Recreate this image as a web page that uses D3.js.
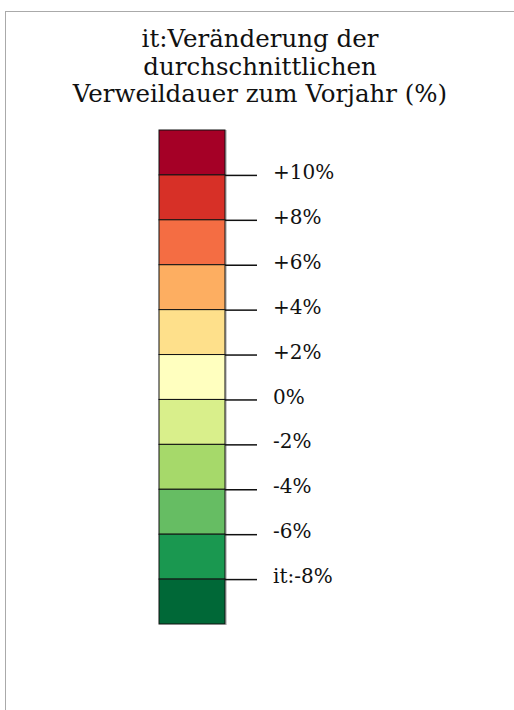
<!DOCTYPE html>
<html>
<head>
<meta charset="utf-8">
<script src="https://cdn.jsdelivr.net/npm/d3@7"></script>
<style>
  body { margin: 0; background: #fff; }
  text { font-family: "DejaVu Serif", serif; fill: #111; }
</style>
</head>
<body>
<div id="chart"></div>
<script>
// data
const titleLines = ["it:Veränderung der", "durchschnittlichen", "Verweildauer zum Vorjahr (%)"];
const bandEdges = [12, 10, 8, 6, 4, 2, 0, -2, -4, -6, -8, -10];
const bandColors = ["#a50026", "#d73027", "#f46d43", "#fdae61", "#fee08b", "#ffffbf",
                    "#d9ef8b", "#a6d96a", "#66bd63", "#1a9850", "#006837"];
const tickValues = [10, 8, 6, 4, 2, 0, -2, -4, -6, -8];
const tickLabels = ["+10%", "+8%", "+6%", "+4%", "+2%", "0%", "-2%", "-4%", "-6%", "it:-8%"];

const W = 514, H = 710;
const svg = d3.select("#chart").append("svg")
    .attr("width", W)
    .attr("height", H);

// frame
svg.append("rect")
    .attr("x", 5.5).attr("y", 11.5)
    .attr("width", W + 10).attr("height", H + 10)
    .attr("fill", "none")
    .attr("stroke", "#aaa");

// title
svg.append("text")
    .attr("text-anchor", "middle")
    .attr("font-size", 24.5)
    .selectAll("tspan")
    .data(titleLines)
    .join("tspan")
    .attr("x", 260)
    .attr("y", (d, i) => 47 + i * 27.5)
    .text(d => d);

// scale
const barX = 159, barW = 66;
const y = d3.scaleLinear()
    .domain([12, -10])
    .range([130, 624]);

const bands = bandColors.map((c, i) => ({ from: bandEdges[i], to: bandEdges[i + 1], color: c }));

// shadow on right edge
svg.append("line")
    .attr("x1", barX + barW + 1).attr("x2", barX + barW + 1)
    .attr("y1", y(12)).attr("y2", y(-10) + 1)
    .attr("stroke", "#999")
    .attr("stroke-width", 1);

svg.append("g")
    .selectAll("rect")
    .data(bands)
    .join("rect")
    .attr("x", barX)
    .attr("y", d => y(d.from))
    .attr("width", barW)
    .attr("height", d => y(d.to) - y(d.from))
    .attr("fill", d => d.color)
    .attr("stroke", "#111")
    .attr("stroke-width", 1);

// axis
const axis = d3.axisRight(y)
    .tickValues(tickValues)
    .tickSize(32)
    .tickPadding(16)
    .tickFormat((d, i) => tickLabels[i]);

const gAxis = svg.append("g")
    .attr("transform", `translate(${barX + barW},0)`)
    .call(axis);

gAxis.select(".domain").remove();
gAxis.selectAll(".tick line").attr("stroke", "#111").attr("stroke-width", 1.5);
gAxis.selectAll(".tick text")
    .attr("font-family", "DejaVu Serif, serif")
    .attr("font-size", 20)
    .attr("fill", "#111")
    .attr("dy", "0.18em");
</script>
</body>
</html>
